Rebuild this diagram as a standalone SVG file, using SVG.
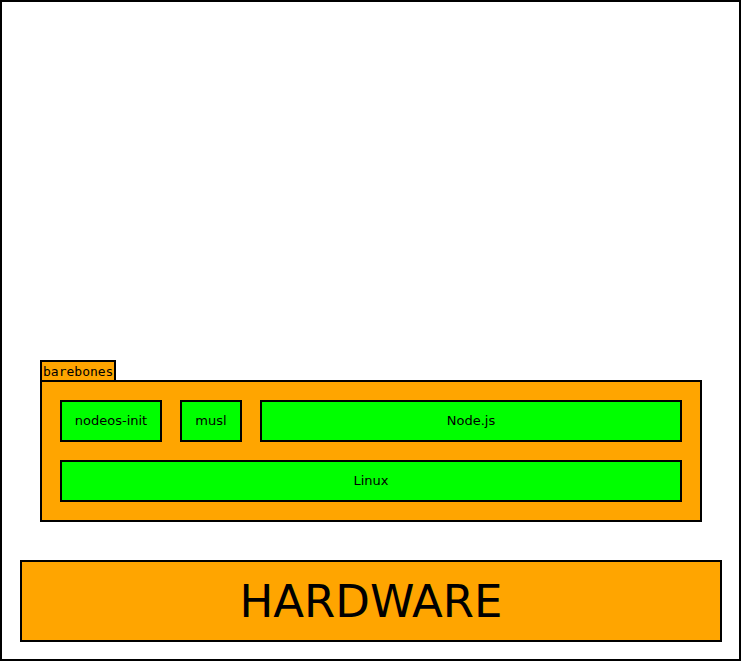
<svg xmlns="http://www.w3.org/2000/svg" width="741" height="661" viewBox="0 0 741 661">
<style>
.box{stroke:#000;stroke-width:2}
.org{fill:#ffa500}
.grn{fill:#00ff00}
.lbl{font-family:"DejaVu Sans",sans-serif;font-size:13px;text-anchor:middle;fill:#000}
.mono{font-family:"DejaVu Sans Mono",monospace;font-size:13px;fill:#000}
.big{font-family:"DejaVu Sans",sans-serif;font-size:45px;text-anchor:middle;fill:#000}
</style>
<rect x="1" y="1" width="739" height="659" fill="#fff" stroke="#000" stroke-width="2"/>
<g id="barebones">
<rect class="box org" x="41" y="361" width="74" height="20"/>
<text class="mono" x="43" y="376">barebones</text>
<rect class="box org" x="41" y="381" width="660" height="140"/>
</g>
<g id="nodeos-init">
<rect class="box grn" x="61" y="401" width="100" height="40"/>
<text class="lbl" x="111" y="425">nodeos-init</text>
</g>
<g id="musl">
<rect class="box grn" x="181" y="401" width="60" height="40"/>
<text class="lbl" x="211" y="425">musl</text>
</g>
<g id="nodejs">
<rect class="box grn" x="261" y="401" width="420" height="40"/>
<text class="lbl" x="471" y="425">Node.js</text>
</g>
<g id="linux">
<rect class="box grn" x="61" y="461" width="620" height="40"/>
<text class="lbl" x="371" y="485">Linux</text>
</g>
<g id="hardware">
<rect class="box org" x="21" y="561" width="700" height="80"/>
<text class="big" x="371" y="617">HARDWARE</text>
</g>
<g id="connectors"/>
</svg>
